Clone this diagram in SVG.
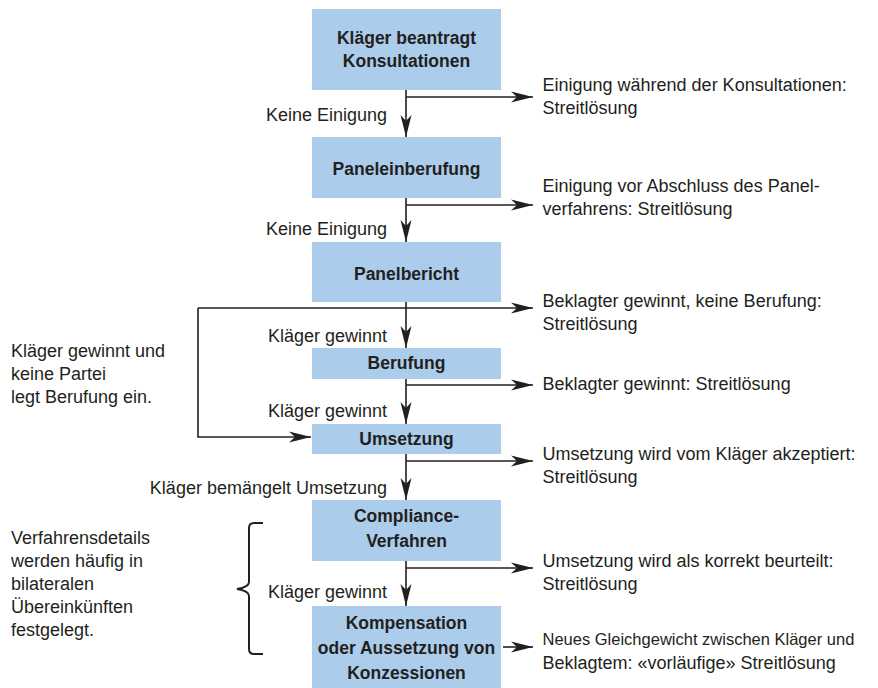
<svg xmlns="http://www.w3.org/2000/svg" width="878" height="688" viewBox="0 0 878 688">
<style>
.box{fill:#abcdeb;}
.bt{font-family:"Liberation Sans",Arial,sans-serif;font-weight:bold;font-size:17.5px;fill:#231f20;text-anchor:middle;}
.t{font-family:"Liberation Sans",Arial,sans-serif;font-size:18px;fill:#231f20;}
.lbl{text-anchor:end;}
.c{fill:none;stroke:#231f20;stroke-width:1.6;}
.a{marker-end:url(#ah);}
</style>
<defs>
<marker id="ah" viewBox="0 0 22 12" refX="22" refY="6" markerWidth="22" markerHeight="12" markerUnits="userSpaceOnUse" orient="auto">
<path d="M0,0.5 L22,6 L0,11.5 L6,6 Z" fill="#231f20"/>
</marker>
</defs>
<rect width="878" height="688" fill="#ffffff"/>

<g id="connectors">
<path class="c a" d="M406,90 V137"/>
<path class="c a" d="M406,97 H533"/>
<path class="c a" d="M406,198 V242"/>
<path class="c a" d="M406,205 H533"/>
<path class="c a" d="M406,302 V348"/>
<path class="c a" d="M198,308 H533"/>
<path class="c a" d="M406,379 V424"/>
<path class="c a" d="M406,385 H533"/>
<path class="c a" d="M198,308 V437 H311"/>
<path class="c a" d="M406,454 V500"/>
<path class="c a" d="M406,461 H533"/>
<path class="c a" d="M406,561 V606"/>
<path class="c a" d="M406,568 H533"/>
<path class="c a" d="M503,647 H533"/>
<path class="c" d="M263,523 H254 Q249,523 249,528 V582 Q249,587 237,589 Q249,591 249,596 V649 Q249,654 254,654 H263" style="stroke-width:2"/>
</g>

<g id="n1"><rect class="box" x="312" y="9" width="189" height="81"/>
<text class="bt" x="406.5" y="43.5">Kläger beantragt</text><text class="bt" x="406.5" y="67">Konsultationen</text></g>
<g id="n2"><rect class="box" x="312" y="137" width="189" height="61"/>
<text class="bt" x="406.5" y="175">Paneleinberufung</text></g>
<g id="n3"><rect class="box" x="312" y="242" width="189" height="60"/>
<text class="bt" x="406.5" y="280">Panelbericht</text></g>
<g id="n4"><rect class="box" x="312" y="348" width="189" height="31"/>
<text class="bt" x="406.5" y="368.5">Berufung</text></g>
<g id="n5"><rect class="box" x="312" y="424" width="189" height="30"/>
<text class="bt" x="406.5" y="445">Umsetzung</text></g>
<g id="n6"><rect class="box" x="312" y="500" width="189" height="61"/>
<text class="bt" x="406.5" y="522">Compliance-</text><text class="bt" x="406.5" y="547">Verfahren</text></g>
<g id="n7"><rect class="box" x="312" y="606" width="189" height="82"/>
<text class="bt" x="406.5" y="628.5">Kompensation</text><text class="bt" x="406.5" y="653.5">oder Aussetzung von</text><text class="bt" x="406.5" y="678.5">Konzessionen</text></g>

<g id="labels">
<text class="t lbl" x="387" y="121">Keine Einigung</text>
<text class="t lbl" x="387" y="234.5">Keine Einigung</text>
<text class="t lbl" x="387" y="342">Kläger gewinnt</text>
<text class="t lbl" x="387" y="417">Kläger gewinnt</text>
<text class="t lbl" x="387" y="493.5">Kläger bemängelt Umsetzung</text>
<text class="t lbl" x="387" y="598">Kläger gewinnt</text>
</g>

<g id="outcomes">
<text class="t" x="542.5" y="91">Einigung während der Konsultationen:</text>
<text class="t" x="542.5" y="113.5">Streitlösung</text>
<text class="t" x="542.5" y="192">Einigung vor Abschluss des Panel-</text>
<text class="t" x="542.5" y="215">verfahrens: Streitlösung</text>
<text class="t" x="542.5" y="307">Beklagter gewinnt, keine Berufung:</text>
<text class="t" x="542.5" y="330">Streitlösung</text>
<text class="t" x="542.5" y="390">Beklagter gewinnt: Streitlösung</text>
<text class="t" x="542.5" y="460">Umsetzung wird vom Kläger akzeptiert:</text>
<text class="t" x="542.5" y="483">Streitlösung</text>
<text class="t" x="542.5" y="567">Umsetzung wird als korrekt beurteilt:</text>
<text class="t" x="542.5" y="590">Streitlösung</text>
<text class="t" x="542.5" y="645" style="font-size:16.5px">Neues Gleichgewicht zwischen Kläger und</text>
<text class="t" x="542.5" y="668.5">Beklagtem: «vorläufige» Streitlösung</text>
</g>

<g id="notes">
<text class="t" x="11" y="357">Kläger gewinnt und</text>
<text class="t" x="11" y="380">keine Partei</text>
<text class="t" x="11" y="403">legt Berufung ein.</text>
<text class="t" x="11" y="543.5">Verfahrensdetails</text>
<text class="t" x="11" y="566.5">werden häufig in</text>
<text class="t" x="11" y="589.5">bilateralen</text>
<text class="t" x="11" y="612.5">Übereinkünften</text>
<text class="t" x="11" y="635.5">festgelegt.</text>
</g>
</svg>
